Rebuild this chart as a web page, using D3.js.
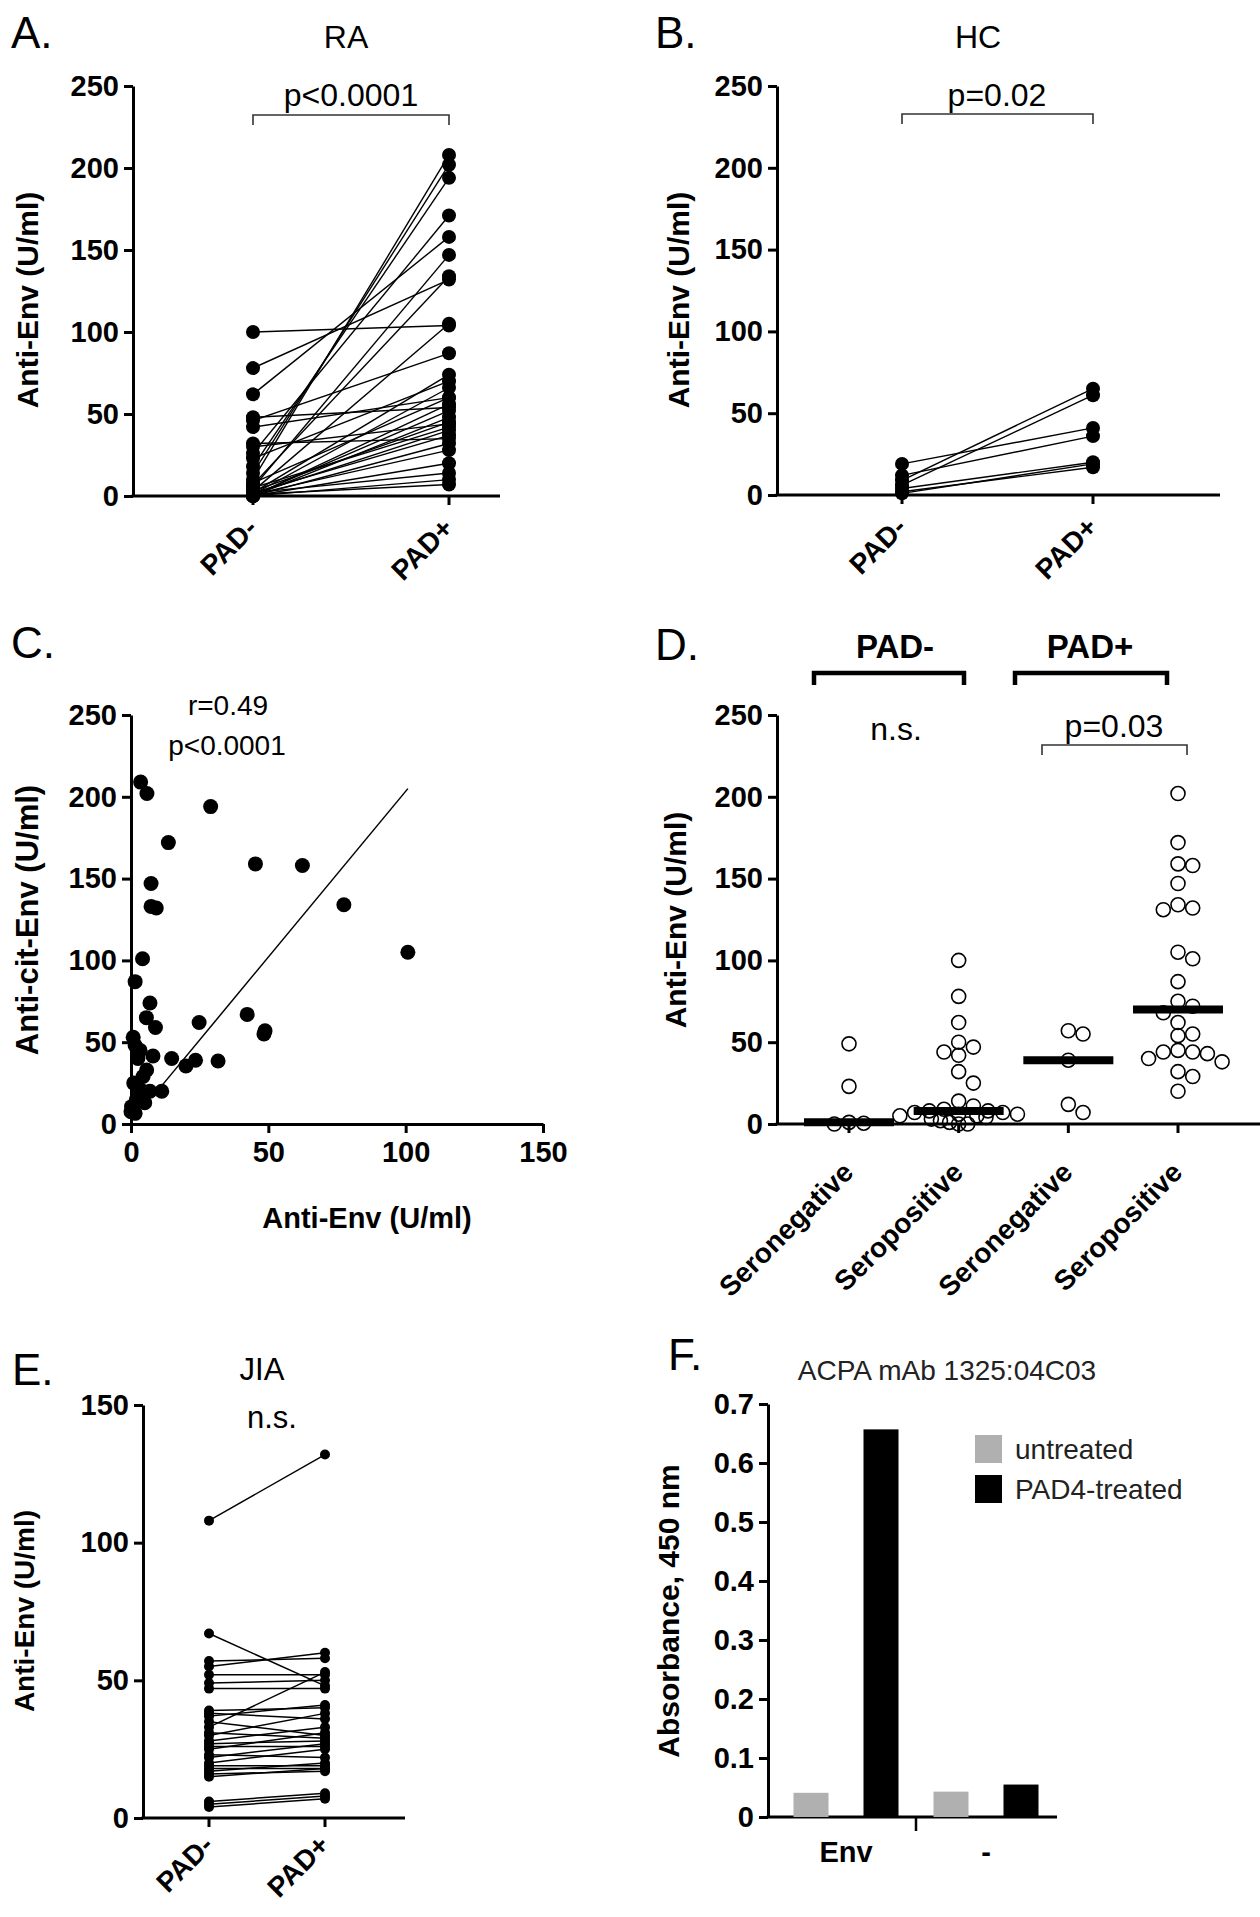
<!DOCTYPE html>
<html><head><meta charset="utf-8">
<script src="https://cdn.jsdelivr.net/npm/d3@7"></script>
<style>
body{margin:0;background:#fff;}
svg{display:block;font-family:"Liberation Sans",Arial,Helvetica,sans-serif;}
</style></head><body>
<svg id="c" width="1260" height="1917"></svg>
<script>
// ---------------- DATA ----------------
const pairCats = ["PAD-", "PAD+"];
// Panel A (RA) paired values
const raPadMinus = [100, 78, 62, 48, 46, 42, 32, 30, 26, 23, 18, 14, 10, 7, 5, 3, 2, 1, 0.5, 0, 1, 2, 0, 1, 0, 2, 0, 1, 3, 0, 5, 8];
const raPadPlus  = [104, 132, 158, 54, 87, 60, 35, 44, 171, 70, 194, 202, 208, 134, 147, 105, 74, 66, 52, 48, 40, 37, 32, 28, 20, 14, 10, 7, 45, 56, 42, 60];
// Panel B (HC)
const hcPadMinus = [19, 9, 6, 12, 4, 2, 1];
const hcPadPlus  = [41, 65, 61, 36, 20, 17, 19];
// Panel C scatter
const cAntiEnv    = [3.5, 5.8, 29, 13.6, 45.3, 62.4, 7.3, 7.3, 9.2, 77.5, 100.8, 4.2, 1.5, 6.9, 5.6, 8.9, 24.8, 42.3, 48.8, 48.4, 0.8, 3.3, 8, 14.8, 20, 23.5, 31.7, 5.7, 4.4, 11.2, 6.9, 3.3, 2, 5, 0.2, 0, 1.5, 1, 2.5, 1.5];
const cAntiCitEnv = [209, 202, 194, 172, 159, 158, 147, 133, 132, 134, 105, 101, 87, 74, 65, 59, 62, 67, 57, 55, 53, 45, 41.6, 40, 35.5, 39, 38.5, 33, 29, 20, 20, 21, 15, 13, 10.6, 7.5, 6.5, 25, 40, 48];
const cFitX = [11, 100.8];
const cFitY = [23, 205];
// Panel D
const dGroups = ["Seronegative", "Seropositive", "Seronegative ", "Seropositive "];
const dSeronegMinus = [49, 23, 1, 0.5, 0];
const dSeroposMinus = [100, 78, 62, 50, 47, 44, 42, 32, 25, 14, 11, 9, 8, 8, 7, 7, 6, 6, 5, 5, 4, 3, 2, 1, 0, 0];
const dSeronegPlus  = [57, 55, 39, 12, 7];
const dSeroposPlus  = [202, 172, 159, 158, 147, 134, 132, 131, 105, 101, 87, 75, 72, 68, 62, 55, 54, 45, 44, 44, 43, 40, 38, 32, 29, 20];
// Panel E (JIA)
const jiaPadMinus = [108, 67, 57, 55, 52, 49, 47, 39, 38, 37, 35, 33, 31, 30, 28, 27, 26, 25, 23, 22, 20, 19, 18, 17, 16, 15, 6, 4, 5];
const jiaPadPlus  = [132, 48, 58, 60, 52, 50, 47, 40, 36, 41, 30, 53, 29, 38, 33, 28, 26, 31, 22, 27, 25, 19, 18, 20, 17, 18, 9, 7, 8];
// Panel F
const fCats = ["Env", "-"];
const fSeries = ["untreated", "PAD4-treated"];
const fUntreated = [0.041, 0.043];
const fPad4 = [0.657, 0.055];

// ---------------- HELPERS ----------------
const svg = d3.select("#c");
const FONT = '"Liberation Sans",Arial,Helvetica,sans-serif';
const TICKFS = 29;

function styleAxis(g, fs) {
  g.selectAll("path,line").attr("stroke", "#000").attr("stroke-width", 3);
  g.selectAll("text").attr("font-weight", "bold").attr("font-size", fs || TICKFS).attr("fill", "#000").attr("font-family", FONT);
}
function txt(x, y, s, o) {
  o = o || {};
  const t = svg.append("text").attr("x", x).attr("y", y).text(s)
    .attr("font-size", o.size || 28).attr("font-weight", o.weight || "normal")
    .attr("text-anchor", o.anchor || "middle").attr("fill", o.fill || "#000");
  if (o.rotate !== undefined) t.attr("transform", `rotate(${o.rotate},${x},${y})`);
  return t;
}
function yLabel(x, y, s, size) {
  txt(x, y, s, {size: size || 30, weight: "bold", rotate: -90}).attr("dominant-baseline", "central");
}
function bracket(x1, x2, y, drop, sw, col) {
  svg.append("path").attr("d", `M${x1},${y + drop}V${y}H${x2}V${y + drop}`)
    .attr("fill", "none").attr("stroke", col || "#333").attr("stroke-width", sw || 1.6);
}
function rotLabels(xs, labels, y, size) {
  labels.forEach((l, i) => {
    svg.append("text").attr("x", xs[i] + 6).attr("y", y).text(l.trim())
      .attr("font-size", size || 28).attr("font-weight", "bold").attr("text-anchor", "end")
      .attr("transform", `rotate(-45,${xs[i] + 6},${y})`);
  });
}

function pairedPanel(o) {
  const y = d3.scaleLinear().domain(o.domain).range(o.yRange);
  const x = d3.scalePoint().domain(pairCats).range(o.catRange);
  const gy = svg.append("g").attr("transform", `translate(${o.axisX},0)`)
    .call(d3.axisLeft(y).tickValues(o.ticks).tickSize(9).tickSizeOuter(0).tickPadding(5));
  styleAxis(gy);
  svg.append("line").attr("x1", o.axisX - 1.5).attr("x2", o.axisEnd).attr("y1", y(0)).attr("y2", y(0))
    .attr("stroke", "#000").attr("stroke-width", 3);
  svg.selectAll(null).data(pairCats).enter().append("line")
    .attr("x1", d => x(d)).attr("x2", d => x(d)).attr("y1", y(0)).attr("y2", y(0) + 9)
    .attr("stroke", "#000").attr("stroke-width", 3);
  const pairs = o.minus.map((m, i) => ({m, p: o.plus[i]}));
  svg.append("g").selectAll("line").data(pairs).enter().append("line")
    .attr("x1", x("PAD-")).attr("x2", x("PAD+")).attr("y1", d => y(d.m)).attr("y2", d => y(d.p))
    .attr("stroke", "#000").attr("stroke-width", o.lw || 1.4);
  const pts = [];
  pairs.forEach(d => { pts.push({c: "PAD-", v: d.m}); pts.push({c: "PAD+", v: d.p}); });
  svg.append("g").selectAll("circle").data(pts).enter().append("circle")
    .attr("cx", d => x(d.c)).attr("cy", d => y(d.v)).attr("r", o.r).attr("fill", "#000");
  rotLabels(pairCats.map(c => x(c)), pairCats, o.labelY, 28);
  return {x, y};
}

// ---------------- PANEL A ----------------
txt(11, 48, "A.", {size: 44, anchor: "start"});
txt(346, 48, "RA", {size: 32});
const A = pairedPanel({domain: [0, 250], yRange: [496, 86], catRange: [253, 449], axisX: 133, axisEnd: 500,
  ticks: [0, 50, 100, 150, 200, 250], minus: raPadMinus, plus: raPadPlus, r: 7, labelY: 530});
yLabel(27, 300, "Anti-Env (U/ml)");
bracket(A.x("PAD-"), A.x("PAD+"), 115, 10);
txt(351, 106, "p<0.0001", {size: 32});

// ---------------- PANEL B ----------------
txt(655, 48, "B.", {size: 44, anchor: "start"});
txt(978, 48, "HC", {size: 32});
const B = pairedPanel({domain: [0, 250], yRange: [495, 86], catRange: [902, 1093], axisX: 777, axisEnd: 1220,
  ticks: [0, 50, 100, 150, 200, 250], minus: hcPadMinus, plus: hcPadPlus, r: 7, labelY: 529});
yLabel(678, 300, "Anti-Env (U/ml)");
bracket(B.x("PAD-"), B.x("PAD+"), 114, 10);
txt(997, 106, "p=0.02", {size: 32});

// ---------------- PANEL C ----------------
txt(11, 658, "C.", {size: 44, anchor: "start"});
const cx = d3.scaleLinear().domain([0, 150]).range([131, 543]);
const cy = d3.scaleLinear().domain([0, 250]).range([1124, 715]);
const gcy = svg.append("g").attr("transform", "translate(131,0)")
  .call(d3.axisLeft(cy).tickValues([0, 50, 100, 150, 200, 250]).tickSize(9).tickSizeOuter(0).tickPadding(5));
styleAxis(gcy);
const gcx = svg.append("g").attr("transform", "translate(0,1124)")
  .call(d3.axisBottom(cx).tickValues([0, 50, 100, 150]).tickSize(9).tickSizeOuter(0).tickPadding(8));
styleAxis(gcx);
svg.append("line").attr("x1", cx(cFitX[0])).attr("y1", cy(cFitY[0])).attr("x2", cx(cFitX[1])).attr("y2", cy(cFitY[1]))
  .attr("stroke", "#000").attr("stroke-width", 1.5);
svg.append("g").selectAll("circle").data(cAntiEnv.map((v, i) => [v, cAntiCitEnv[i]])).enter().append("circle")
  .attr("cx", d => cx(d[0])).attr("cy", d => cy(d[1])).attr("r", 7.5).attr("fill", "#000");
yLabel(27, 920, "Anti-cit-Env (U/ml)", 31);
txt(367, 1228, "Anti-Env (U/ml)", {size: 29, weight: "bold"});
txt(228, 715, "r=0.49", {size: 28});
txt(227, 755, "p<0.0001", {size: 28});

// ---------------- PANEL D ----------------
txt(655, 660, "D.", {size: 44, anchor: "start"});
const dx = d3.scalePoint().domain(dGroups).range([849, 1178]);
const dy = d3.scaleLinear().domain([0, 250]).range([1124, 715]);
const gdy = svg.append("g").attr("transform", "translate(777,0)")
  .call(d3.axisLeft(dy).tickValues([0, 50, 100, 150, 200, 250]).tickSize(9).tickSizeOuter(0).tickPadding(5));
styleAxis(gdy);
svg.append("line").attr("x1", 775.5).attr("x2", 1260).attr("y1", dy(0)).attr("y2", dy(0)).attr("stroke", "#000").attr("stroke-width", 3);
svg.selectAll(null).data(dGroups).enter().append("line")
  .attr("x1", d => dx(d)).attr("x2", d => dx(d)).attr("y1", dy(0)).attr("y2", dy(0) + 9)
  .attr("stroke", "#000").attr("stroke-width", 3);
const dVals = [dSeronegMinus, dSeroposMinus, dSeronegPlus, dSeroposPlus];
const R = 7;
function swarm(vals) {
  const placed = [];
  return vals.slice().sort((a, b) => b - a).map(v => {
    const py = dy(v);
    let off = null;
    for (let k = 0; k < 9; k++) {
      const cand = k === 0 ? 0 : (k % 2 ? 1 : -1) * Math.ceil(k / 2) * (R * 2.1);
      if (placed.every(p => Math.hypot(p.dx - cand, p.py - py) >= R * 1.7)) { off = cand; break; }
    }
    if (off === null) off = ((placed.length % 7) - 3) * R * 1.3;
    placed.push({dx: off, py});
    return {v, dx: off};
  });
}
dVals.forEach((vals, i) => {
  const g = dGroups[i];
  const med = d3.median(vals);
  svg.append("line").attr("x1", dx(g) - 45).attr("x2", dx(g) + 45).attr("y1", dy(med)).attr("y2", dy(med))
    .attr("stroke", "#000").attr("stroke-width", 8);
  svg.append("g").selectAll("circle").data(swarm(vals)).enter().append("circle")
    .attr("cx", d => dx(g) + d.dx).attr("cy", d => dy(d.v)).attr("r", R)
    .attr("fill", "none").attr("stroke", "#000").attr("stroke-width", 1.6);
});
rotLabels(dGroups.map(g => dx(g)), dGroups, 1174, 28);
yLabel(675, 920, "Anti-Env (U/ml)");
txt(895, 658, "PAD-", {size: 33, weight: "bold"});
txt(1090, 658, "PAD+", {size: 33, weight: "bold"});
bracket(814, 964, 673, 12, 4.5, "#000");
bracket(1015, 1167, 673, 12, 4.5, "#000");
txt(896, 740, "n.s.", {size: 32});
bracket(1042, 1187, 745, 10, 1.6);
txt(1114, 737, "p=0.03", {size: 32});

// ---------------- PANEL E ----------------
txt(12, 1385, "E.", {size: 44, anchor: "start"});
txt(262, 1380, "JIA", {size: 31});
const E = pairedPanel({domain: [0, 150], yRange: [1818, 1405], catRange: [209, 325], axisX: 143, axisEnd: 405,
  ticks: [0, 50, 100, 150], minus: jiaPadMinus, plus: jiaPadPlus, r: 5, labelY: 1847, lw: 1.5});
yLabel(24, 1611, "Anti-Env (U/ml)", 28);
txt(272, 1428, "n.s.", {size: 31});

// ---------------- PANEL F ----------------
txt(668, 1370, "F.", {size: 44, anchor: "start"});
txt(947, 1380, "ACPA mAb 1325:04C03", {size: 28, fill: "#222"});
const fy = d3.scaleLinear().domain([0, 0.7]).range([1817, 1404]);
const fx = d3.scaleBand().domain(fCats).range([776, 1056]);
const fsub = d3.scaleBand().domain(fSeries).range([0, fx.bandwidth()]).paddingInner(0.5).paddingOuter(0.25);
const fColor = d3.scaleOrdinal().domain(fSeries).range(["#b0b0b0", "#000"]);
const gfy = svg.append("g").attr("transform", "translate(768,0)")
  .call(d3.axisLeft(fy).tickValues([0, 0.1, 0.2, 0.3, 0.4, 0.5, 0.6, 0.7]).tickFormat(d => d === 0 ? "0" : d3.format(".1f")(d))
    .tickSize(9).tickSizeOuter(0).tickPadding(5));
styleAxis(gfy);
svg.append("line").attr("x1", 766.5).attr("x2", 1057).attr("y1", fy(0)).attr("y2", fy(0)).attr("stroke", "#000").attr("stroke-width", 3);
svg.append("line").attr("x1", fx("-")).attr("x2", fx("-")).attr("y1", fy(0)).attr("y2", fy(0) + 14).attr("stroke", "#000").attr("stroke-width", 2.5);
const fData = [];
fCats.forEach((c, i) => { fData.push({c, s: fSeries[0], v: fUntreated[i]}); fData.push({c, s: fSeries[1], v: fPad4[i]}); });
svg.append("g").selectAll("rect").data(fData).enter().append("rect")
  .attr("x", d => fx(d.c) + fsub(d.s)).attr("width", fsub.bandwidth())
  .attr("y", d => fy(d.v)).attr("height", d => fy(0) - fy(d.v)).attr("fill", d => fColor(d.s));
fCats.forEach(c => txt(fx(c) + fx.bandwidth() / 2, 1862, c, {size: 29, weight: "bold"}));
yLabel(668, 1611, "Absorbance, 450 nm", 30);
// legend
const leg = svg.append("g").attr("transform", "translate(975,1435)");
fSeries.forEach((s, i) => {
  leg.append("rect").attr("x", 0).attr("y", i * 40).attr("width", 27).attr("height", 28).attr("fill", fColor(s));
  leg.append("text").attr("x", 40).attr("y", i * 40 + 14).attr("dominant-baseline", "central")
    .attr("font-size", 28).attr("fill", "#222").text(s);
});
</script></body></html>
